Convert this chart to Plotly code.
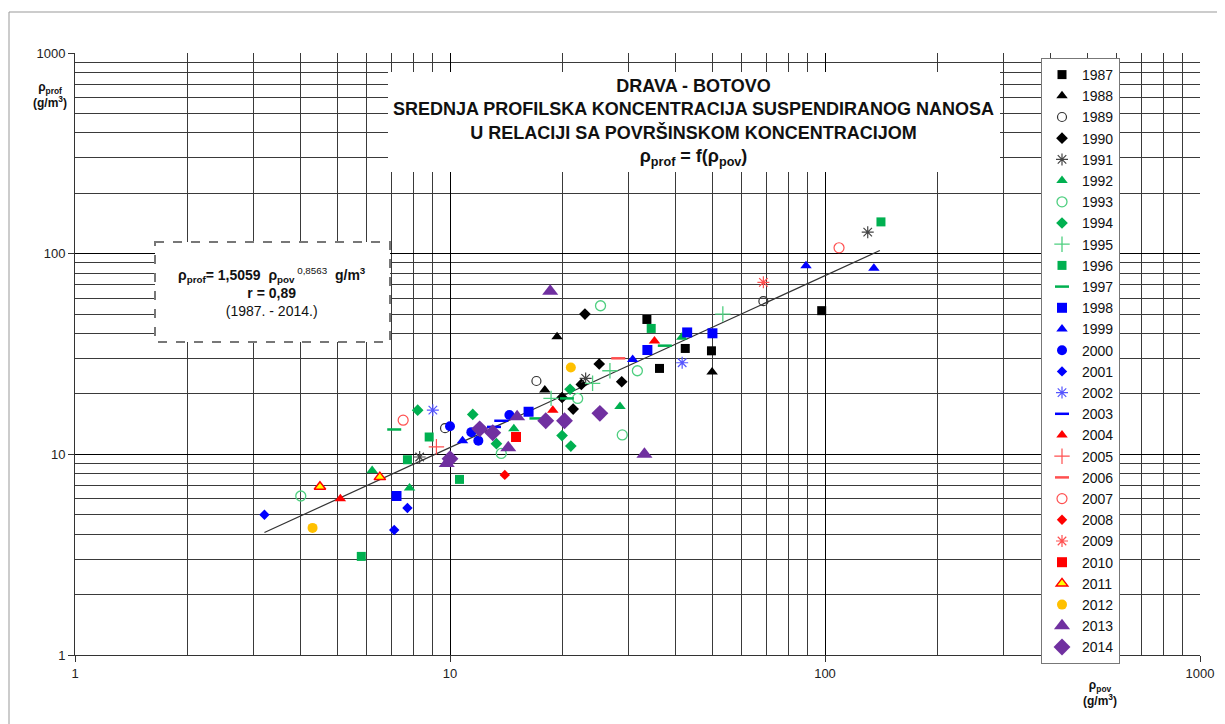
import plotly.graph_objects as go

# ---- data ----
years = [str(y) for y in range(1987, 2015)]

x1987 = [33.5, 36.2, 42.4, 49.8, 98]
y1987 = [47, 26.8, 33.7, 32.8, 52]
x1988 = [19.3, 17.9, 50]
y1988 = [38.5, 20.9, 25.7]
x1989 = [17.0, 9.7, 68.5]
y1989 = [23.2, 13.5, 58]
x1990 = [22.9, 25.0, 28.7, 22.4, 19.9, 21.3]
y1990 = [50, 28.2, 23.0, 22.3, 19.2, 16.8]
x1991 = [8.3, 23.0, 130]
y1991 = [9.7, 23.9, 128]
x1992 = [6.2, 7.8, 14.8, 28.4, 41.5]
y1992 = [8.3, 6.8, 13.4, 17.3, 38.3]
x1993 = [4.0, 13.7, 25.2, 31.6, 21.9, 28.8]
y1993 = [6.2, 10.1, 55, 26.1, 19.0, 12.5]
x1994 = [8.2, 11.5, 13.3, 20.9, 19.9, 21.0]
y1994 = [16.6, 15.8, 11.3, 21.1, 12.4, 11.0]
x1995 = [26.7, 24.0, 18.6, 53.4]
y1995 = [26.1, 22.6, 19.0, 50]
x1996 = [5.8, 7.7, 8.8, 10.6, 34.4, 141]
y1996 = [3.1, 9.4, 12.2, 7.5, 42.4, 144]
x1997 = [7.1, 17.0, 37.4, 20.5]
y1997 = [13.3, 15.1, 34.8, 19.0]
x1998 = [7.2, 16.2, 33.6, 42.9, 50.1]
y1998 = [6.2, 16.3, 33.1, 40.5, 40.1]
x1999 = [10.8, 30.7, 89, 135]
y1999 = [11.7, 29.7, 87, 84.5]
x2000 = [10.0, 11.4, 11.9, 14.4]
y2000 = [13.8, 12.9, 11.7, 15.7]
x2001 = [3.2, 7.1, 7.7]
y2001 = [5.0, 4.2, 5.4]
x2002 = [9.0, 41.6]
y2002 = [16.6, 28.6]
x2003 = [13.1, 13.7]
y2003 = [13.7, 14.7]
x2004 = [5.1, 18.8, 35.1]
y2004 = [6.0, 16.6, 36.7]
x2005 = [9.2]
y2005 = [10.9]
x2006 = [28.1]
y2006 = [30.1]
x2007 = [7.5, 109]
y2007 = [14.8, 107]
x2008 = [14.0]
y2008 = [7.9]
x2009 = [68.5]
y2009 = [72]
x2010 = [15.0]
y2010 = [12.2]
x2011 = [4.5, 6.5]
y2011 = [6.9, 7.7]
x2012 = [4.3, 21.0]
y2012 = [4.3, 27.1]
x2013 = [9.8, 15.1, 14.3, 18.5, 33.0]
y2013 = [9.0, 15.4, 10.8, 65, 10.0]
x2014 = [10.0, 12.0, 13.0, 18.0, 20.2, 25.1]
y2014 = [9.5, 13.4, 12.8, 14.7, 14.7, 16.0]

fit_a = 1.5059
fit_b = 0.8563
fit_x = [3.2, 140]

tick_vals = [1, 10, 100, 1000]
tick_text = ["1", "10", "100", "1000"]

xs = [x1987, x1988, x1989, x1990, x1991, x1992, x1993, x1994, x1995, x1996,
      x1997, x1998, x1999, x2000, x2001, x2002, x2003, x2004, x2005, x2006,
      x2007, x2008, x2009, x2010, x2011, x2012, x2013, x2014]
ys = [y1987, y1988, y1989, y1990, y1991, y1992, y1993, y1994, y1995, y1996,
      y1997, y1998, y1999, y2000, y2001, y2002, y2003, y2004, y2005, y2006,
      y2007, y2008, y2009, y2010, y2011, y2012, y2013, y2014]

BLK, GRN, LGRN, BLU, LBLU, RED, LRED, PUR = "#000000", "#00B050", "#4FCF80", "#0000FF", "#5555FF", "#FF0000", "#FF5050", "#7030A0"
# (symbol, color, size, line color, line width)
styles = [
    ("square", BLK, 9, BLK, 0),
    ("triangle-up", BLK, 10, BLK, 0),
    ("circle-open", "#333333", 9, "#333333", 1.2),
    ("diamond", BLK, 9, BLK, 0),
    ("asterisk-open", "#444444", 10, "#444444", 1.2),
    ("triangle-up", GRN, 10, GRN, 0),
    ("circle-open", LGRN, 10, LGRN, 1.3),
    ("diamond", GRN, 9, GRN, 0),
    ("cross-thin-open", LGRN, 11, LGRN, 1.3),
    ("square", GRN, 9, GRN, 0),
    ("line-ew-open", GRN, 10, GRN, 2.5),
    ("square", BLU, 10, BLU, 0),
    ("triangle-up", BLU, 10, BLU, 0),
    ("circle", BLU, 10, BLU, 0),
    ("diamond", BLU, 8, BLU, 0),
    ("asterisk-open", LBLU, 10, LBLU, 1.2),
    ("line-ew-open", BLU, 10, BLU, 2.5),
    ("triangle-up", RED, 10, RED, 0),
    ("cross-thin-open", LRED, 11, LRED, 1.2),
    ("line-ew-open", LRED, 10, LRED, 2.5),
    ("circle-open", LRED, 10, LRED, 1.2),
    ("diamond", RED, 8, RED, 0),
    ("asterisk-open", LRED, 10, LRED, 1.2),
    ("square", RED, 10, RED, 0),
    ("triangle-up", "#FFFF00", 10, RED, 1.5),
    ("circle", "#FFC000", 10, "#FFC000", 0),
    ("triangle-up", PUR, 14, PUR, 0),
    ("diamond", PUR, 13, PUR, 0),
]

fig = go.Figure()

# fit line (power law is straight on log-log)
fit_y = [fit_a * v ** fit_b for v in fit_x]
fig.add_trace(go.Scatter(x=fit_x, y=fit_y, mode="lines",
                         line=dict(color="#333333", width=1.2),
                         showlegend=False, hoverinfo="skip"))

for name, xv, yv, st in zip(years, xs, ys, styles):
    sym, col, size, lcol, lw = st
    fig.add_trace(go.Scatter(
        x=xv, y=yv, mode="markers", name=name,
        marker=dict(symbol=sym, color=col, size=size,
                    line=dict(color=lcol, width=lw))))

# page has an 8px body margin; work in page coordinates
OFF = 8
W, H = 1225 - OFF, 724 - OFF
PL, PR, PT, PB = 75, 1200, 53, 655   # plot area in page pixels
L, T = PL - OFF, PT - OFF
R = W - (PR - OFF)
B = H - (PB - OFF)
pw, ph = PR - PL, PB - PT


def px(xp):
    return (xp - PL) / pw


def py(yp):
    return (PB - yp) / ph


axis_common = dict(
    type="log", range=[0, 3], showline=True, linecolor="#333333", linewidth=1,
    showgrid=True, gridcolor="#000000", gridwidth=1,
    ticks="outside", ticklen=6, tickcolor="#333333",
    tickvals=tick_vals, ticktext=tick_text,
    tickfont=dict(family="Liberation Sans, Arial", size=13, color="#222222"),
    minor=dict(dtick="D1", showgrid=True, gridcolor="#3a3a3a", gridwidth=1,
               ticks=""),
    zeroline=False, mirror=False,
)

fig.update_layout(
    width=W, height=H,
    margin=dict(l=L, r=R, t=T, b=B),
    paper_bgcolor="white", plot_bgcolor="white",
    font=dict(family="Liberation Sans, Arial", color="#111111"),
    xaxis=axis_common,
    yaxis=axis_common,
    legend=dict(x=px(1120), xanchor="right", y=py(58), yanchor="top",
                bgcolor="white", bordercolor="#777777", borderwidth=1,
                font=dict(size=14, color="#111111"), tracegroupgap=0,
                itemwidth=30, itemsizing="trace", maxheight=700),
)

# outer frame
fig.add_shape(type="rect", xref="paper", yref="paper",
              x0=px(9), x1=px(1240), y0=py(12), y1=py(740),
              line=dict(color="#999999", width=1), fillcolor="rgba(0,0,0,0)",
              layer="above")
# title box
fig.add_shape(type="rect", xref="paper", yref="paper",
              x0=px(388), x1=px(1000), y0=py(72), y1=py(172),
              line=dict(width=0), fillcolor="white", layer="above")
# equation box
fig.add_shape(type="rect", xref="paper", yref="paper",
              x0=px(155), x1=px(390), y0=py(242), y1=py(342),
              line=dict(color="#777777", width=2, dash="dash"),
              fillcolor="white", layer="above")

fig.add_annotation(xref="paper", yref="paper", x=px(693), y=py(123),
                   text=("<b>DRAVA - BOTOVO</b><br>"
                         "<b>SREDNJA PROFILSKA KONCENTRACIJA SUSPENDIRANOG NANOSA</b><br>"
                         "<b>U RELACIJI SA POVRŠINSKOM KONCENTRACIJOM</b><br>"
                         "<b>ρ<sub>prof</sub> = f(ρ<sub>pov</sub>)</b>"),
                   showarrow=False, font=dict(size=18, color="#111111"),
                   align="center", xanchor="center", yanchor="middle")

fig.add_annotation(xref="paper", yref="paper", x=px(272), y=py(292),
                   text=("<b>ρ<sub>prof</sub>= 1,5059  ρ<sub>pov</sub></b>"
                         "<sup> 0,8563</sup><b>  g/m<sup>3</sup></b><br>"
                         "<b>r = 0,89</b><br>(1987. - 2014.)"),
                   showarrow=False, font=dict(size=14, color="#111111"),
                   align="center", xanchor="center", yanchor="middle")

fig.add_annotation(xref="paper", yref="paper", x=px(50), y=py(95),
                   text="<b>ρ<sub>prof</sub></b><br><b>(g/m<sup>3</sup>)</b>",
                   showarrow=False, font=dict(size=12, color="#111111"),
                   align="center", xanchor="center", yanchor="middle")
fig.add_annotation(xref="paper", yref="paper", x=px(1100), y=py(693),
                   text="<b>ρ<sub>pov</sub></b><br><b>(g/m<sup>3</sup>)</b>",
                   showarrow=False, font=dict(size=12, color="#111111"),
                   align="center", xanchor="center", yanchor="middle")

fig.write_html("out.html")
